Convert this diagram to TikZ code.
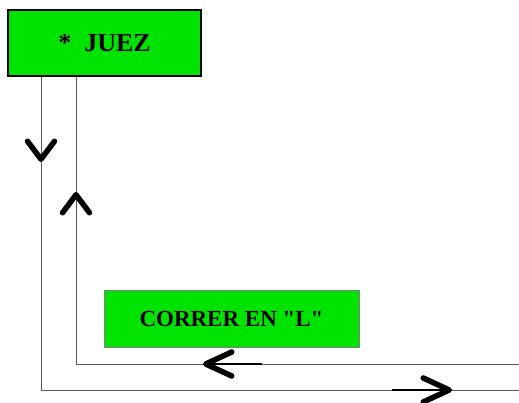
\documentclass[tikz,border=0pt]{standalone}
\usepackage{fontspec}
\setmainfont{Liberation Serif}[Ligatures=TeXOff]
\usetikzlibrary{arrows.meta}
\definecolor{verde}{RGB}{0,226,0}
\begin{document}
\begin{tikzpicture}[x=1pt,y=-1pt,
    caja/.style={draw,fill=verde,inner sep=0pt},
    linea/.style={draw=black!65,line width=0.9pt},
    flecha/.style={-{Straight Barb[length=18pt,width=27pt,line width=5.5pt 0,round,color=black]},line width=0.9pt,draw=black!65},
    flechah/.style={-{Straight Barb[length=26pt,width=24pt,line width=5.5pt 0,round]},line width=1.4pt}]
  \useasboundingbox (0,0) rectangle (519,403);
  % cajas
  \node[caja,line width=2pt,minimum width=193pt,minimum height=66pt,
        font=\bfseries\fontsize{26}{30}\selectfont] (juez) at (104.5,43) {*\ \ JUEZ};
  \node[caja,draw=black!50,line width=0.8pt,minimum width=255pt,minimum height=57pt,
        font=\bfseries\fontsize{23}{27}\selectfont] (correr) at (231.5,318.5) {CORRER EN "L"};
  % lineas
  \coordinate (finA) at (519,390);
  \coordinate (finB) at (519,364);
  \draw[linea] ([xshift=-63.5pt]juez.south) |- (finA);
  \draw[linea] ([xshift=-28.5pt]juez.south) |- (finB);
  % flechas
  \draw[flecha] (41,130) -- (41,162);
  \draw[flecha] (76,225) -- (76,192);
  \draw[flechah] (262,364) -- (203,364);
  \draw[flechah] (392,390) -- (452,390);
\end{tikzpicture}
\end{document}
